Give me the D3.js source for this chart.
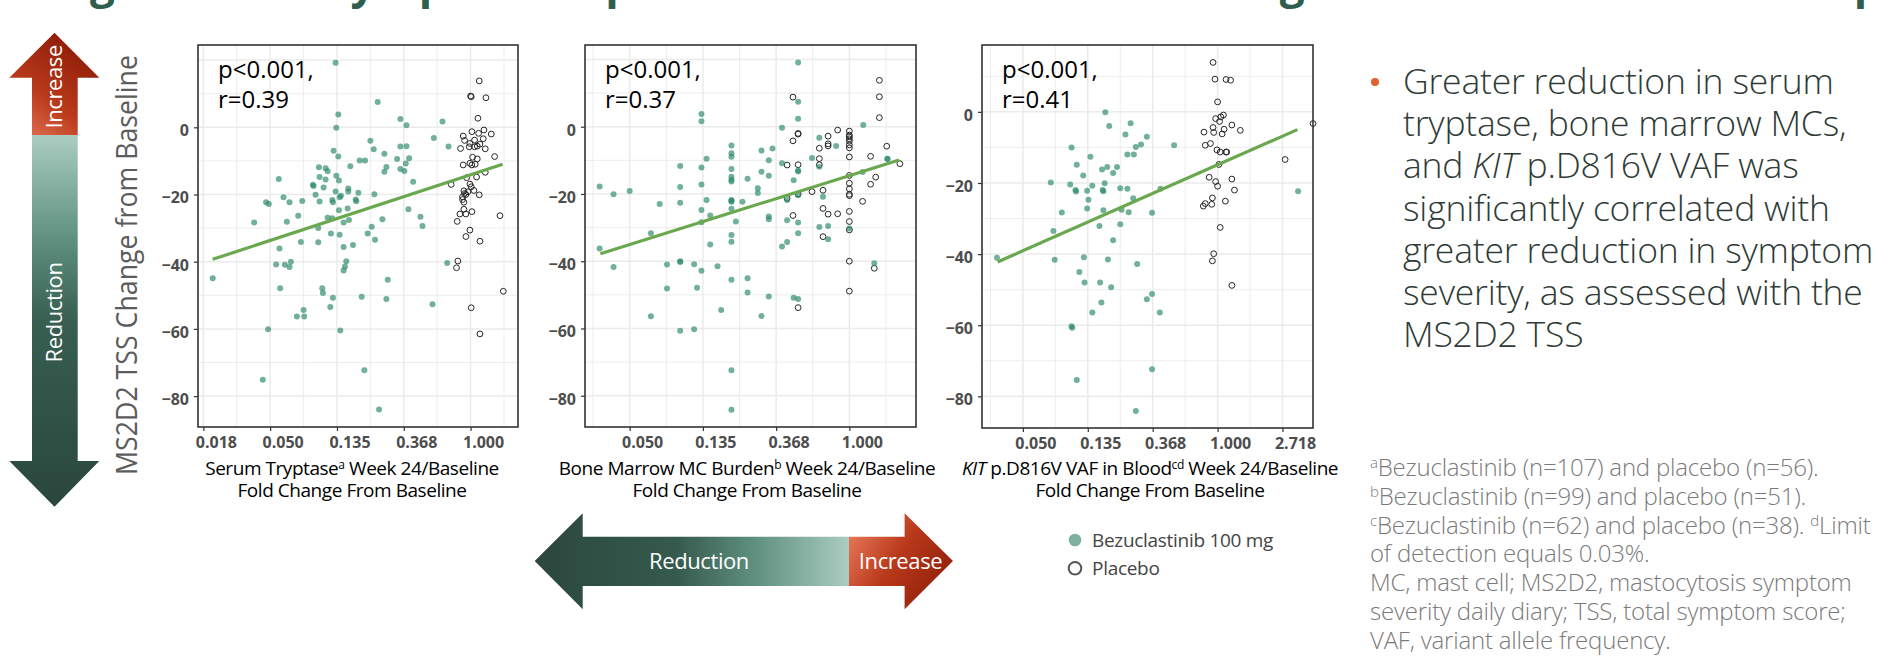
<!DOCTYPE html>
<html>
<head>
<meta charset="utf-8">
<script src="https://cdn.jsdelivr.net/npm/d3@7"></script>
<style>
  body { margin: 0; background: #fff; }
  svg { display: block; font-family: "Open Sans", "Liberation Sans", sans-serif; }
</style>
</head>
<body>
<svg id="viz" width="1887" height="664"></svg>
<script>
// Three scatter panels: MS2D2 TSS change vs log fold change of a disease marker.
// x values are stored as ln(fold change); tick labels show the fold change itself.

const svg = d3.select("#viz");

// ---------- data ----------
const yTicks = [0, -20, -40, -60, -80];

const tryptaseTicks = [-4, -3, -2, -1, 0];
const tryptaseTickLabels = ["0.018", "0.050", "0.135", "0.368", "1.000"];
const marrowTicks = [-3, -2, -1, 0];
const marrowTickLabels = ["0.050", "0.135", "0.368", "1.000"];
const kitTicks = [-3, -2, -1, 0, 1];
const kitTickLabels = ["0.050", "0.135", "0.368", "1.000", "2.718"];

// [ln fold change, TSS change from baseline]
const tryptaseBezu = [
  [-2.02,19.2],[-1.39,7.5],[-1.98,3.8],[-2.01,-0.1],[-1.05,2.5],[-0.96,0.6],[-0.42,1.7],[-0.55,-3.2],
  [-0.33,-5.7],[-1.50,-4.0],[-1.45,-6.5],[-2.05,-7.0],[-1.98,-8.7],[-1.29,-7.9],[-1.05,-5.7],[-0.96,-5.6],
  [-1.10,-9.4],[-0.92,-9.2],[-0.97,-10.8],[-1.66,-9.9],[-1.58,-9.9],[-1.80,-11.6],[-1.26,-11.8],[-1.29,-13.2],
  [-1.05,-12.4],[-0.99,-13.0],[-2.27,-11.9],[-2.17,-12.2],[-2.14,-13.1],[-2.01,-14.4],[-2.26,-14.8],[-2.17,-15.5],
  [-1.97,-15.8],[-2.87,-15.4],[-0.86,-16.2],[-2.36,-17.1],[-2.35,-17.5],[-2.20,-17.9],[-1.83,-18.2],[-1.83,-19.1],
  [-2.02,-19.1],[-2.32,-20.1],[-1.94,-20.4],[-1.96,-20.8],[-1.68,-19.5],[-1.44,-19.9],[-2.80,-20.8],[-3.06,-22.3],
  [-3.02,-22.8],[-2.71,-22.3],[-2.52,-21.9],[-2.26,-22.1],[-2.07,-21.6],[-2.06,-22.3],[-1.72,-21.5],[-1.71,-22.0],
  [-1.97,-24.7],[-1.84,-24.2],[-2.58,-26.3],[-2.14,-26.9],[-2.07,-27.1],[-1.90,-28.3],[-1.82,-27.6],[-3.24,-28.3],
  [-2.75,-28.1],[-1.32,-27.4],[-0.93,-24.4],[-0.75,-26.6],[-0.72,-29.4],[-1.48,-29.6],[-2.28,-30.0],[-2.09,-31.6],
  [-1.96,-32.0],[-1.54,-31.6],[-1.43,-33.5],[-2.54,-34.1],[-2.28,-34.2],[-1.90,-35.6],[-1.76,-35.0],[-2.86,-36.1],
  [-1.86,-39.9],[-2.91,-40.8],[-2.78,-40.9],[-2.69,-40.0],[-2.71,-41.6],[-1.88,-41.4],[-1.90,-42.6],[-0.35,-40.4],
  [-3.86,-44.9],[-1.24,-45.4],[-2.85,-47.9],[-2.22,-47.9],[-2.21,-49.3],[-2.06,-50.7],[-1.63,-50.4],[-1.26,-51.1],
  [-0.57,-52.7],[-2.10,-53.5],[-2.50,-54.4],[-2.60,-56.3],[-2.49,-56.3],[-3.03,-60.1],[-1.95,-60.5],[-1.59,-72.3],
  [-3.11,-75.1],[-1.37,-84.0]
];
const tryptasePbo = [
  [0.13,13.8],[0.01,9.1],[0.00,9.3],[0.23,8.8],[0.11,2.7],[0.20,-0.8],[0.31,-2.0],[0.02,-1.3],
  [-0.11,-2.6],[0.12,-1.8],[-0.09,-3.9],[0.06,-3.8],[0.19,-3.4],[-0.01,-4.8],[0.14,-5.0],[-0.15,-6.3],
  [-0.02,-5.8],[0.10,-5.6],[0.22,-6.4],[0.36,-8.7],[0.03,-8.9],[0.10,-9.4],[-0.11,-11.2],[-0.01,-10.7],
  [0.02,-11.2],[0.07,-11.0],[0.22,-13.4],[0.09,-14.8],[-0.06,-15.0],[-0.29,-17.0],[-0.01,-16.9],[0.05,-18.8],
  [-0.10,-18.9],[-0.09,-19.7],[-0.07,-20.0],[0.13,-20.1],[-0.12,-21.5],[-0.10,-22.3],[-0.10,-24.4],[0.02,-25.1],
  [-0.16,-25.8],[-0.07,-25.8],[-0.20,-28.0],[-0.01,-30.6],[-0.07,-32.5],[0.14,-33.9],[0.44,-26.3],[-0.19,-39.8],
  [-0.21,-41.8],[0.49,-48.8],[0.01,-53.7],[0.14,-61.5],[-0.04,-19.2],[0.01,-17.7],[-0.12,-20.7],[0.06,-5.8]
];
const tryptaseFit = [[-3.86, -39.3], [0.48, -11.0]];

const marrowBezu = [
  [-0.70,19.1],[-0.70,7.4],[-0.70,2.4],[-0.92,-0.3],[0.19,0.5],[-2.02,3.8],[-2.02,1.6],[-1.61,-5.6],
  [-1.61,-7.9],[-1.61,-8.9],[-1.20,-7.1],[-1.05,-6.5],[-0.41,-3.3],[-0.18,-5.7],[-0.51,-9.3],[-0.41,-11.9],
  [0.52,-9.5],[-1.95,-9.5],[-2.31,-11.7],[-2.02,-12.1],[-1.61,-12.6],[-1.61,-14.9],[-1.61,-15.8],[-1.61,-16.3],
  [-1.10,-10.0],[-0.92,-10.9],[-0.70,-13.3],[-1.20,-13.4],[-1.10,-14.6],[-1.39,-15.5],[-0.76,-15.9],[0.18,-13.5],
  [-3.41,-17.8],[-3.22,-20.1],[-3.00,-19.1],[-2.31,-17.9],[-2.02,-17.2],[-1.25,-18.3],[-1.25,-19.7],[-0.36,-20.8],
  [-0.85,-21.8],[-0.70,-20.4],[-1.95,-21.8],[-1.61,-21.8],[-1.61,-22.3],[-1.46,-22.3],[-2.59,-23.0],[-2.31,-22.6],
  [-2.02,-24.8],[-1.61,-24.4],[-1.90,-26.4],[-1.10,-26.7],[-1.10,-27.5],[-0.85,-27.8],[-0.70,-28.5],[-1.55,-28.2],
  [-2.02,-28.4],[-0.41,-29.8],[-0.29,-29.5],[0.00,-30.3],[-2.71,-31.7],[-1.61,-32.2],[-0.70,-31.7],[-0.29,-33.5],
  [-1.61,-34.2],[-1.90,-35.0],[-0.85,-34.3],[-0.92,-35.6],[-3.41,-36.2],[-3.22,-41.7],[-2.49,-41.0],[-2.31,-40.0],
  [-2.12,-40.9],[-2.02,-42.8],[-1.80,-41.5],[0.34,-40.6],[-1.61,-45.5],[-1.39,-45.1],[-2.49,-48.1],[-2.08,-47.9],
  [-1.39,-49.3],[-1.10,-50.5],[-0.76,-50.9],[-0.70,-51.2],[-1.75,-54.5],[-2.71,-56.4],[-1.20,-56.3],[-2.31,-60.7],
  [-2.12,-60.2],[-1.61,-72.4],[-1.61,-84.2],[-2.31,-40.2],[-1.61,-22.0],[-0.70,-13.0],[0.52,-9.6]
];
const marrowPbo = [
  [0.41,13.8],[0.41,8.9],[0.41,2.7],[-0.77,8.8],[-0.70,-2.0],[-0.70,-2.2],[-0.77,-4.2],[-0.16,-1.0],
  [-0.29,-2.8],[-0.29,-5.1],[-0.29,-5.7],[-0.41,-6.4],[0.00,-1.3],[0.00,-2.5],[0.00,-3.0],[0.00,-3.6],
  [0.00,-4.3],[0.00,-5.4],[0.00,-6.3],[0.00,-9.0],[0.51,-5.8],[-0.41,-9.5],[-0.41,-11.3],[-0.85,-11.4],
  [-0.70,-11.3],[0.29,-8.8],[0.69,-11.0],[0.36,-15.0],[0.29,-17.1],[0.00,-16.8],[0.00,-18.5],[0.00,-20.1],
  [0.00,-20.5],[-0.36,-18.9],[-0.51,-19.3],[0.18,-22.2],[-0.85,-21.3],[-0.36,-24.3],[-0.29,-26.0],[-0.16,-25.9],
  [-0.77,-26.4],[0.00,-25.2],[0.00,-28.2],[0.00,-30.7],[-0.36,-32.7],[0.00,-40.0],[0.34,-42.1],[0.00,-48.9],
  [-0.70,-53.8],[-0.70,-20.0],[0.00,-14.5]
];
const marrowFit = [[-3.40, -37.8], [0.68, -9.9]];

const kitBezu = [
  [-1.73,-0.1],[-1.67,-4.0],[-1.34,-3.2],[-1.42,-6.4],[-1.09,-7.0],[-1.18,-9.2],[-1.26,-9.9],[-1.39,-12.0],
  [-1.29,-12.0],[-0.67,-9.4],[-2.25,-10.0],[-1.96,-12.6],[-2.17,-14.9],[-2.07,-17.9],[-1.78,-16.2],[-1.70,-15.5],
  [-1.55,-15.5],[-1.61,-17.2],[-1.74,-20.1],[-2.57,-19.9],[-2.27,-20.4],[-2.19,-22.0],[-2.18,-22.4],[-2.01,-22.2],
  [-1.93,-20.8],[-1.77,-22.0],[-1.76,-22.3],[-1.50,-21.5],[-1.39,-21.6],[-0.88,-21.6],[-1.99,-24.7],[-1.30,-24.3],
  [-2.01,-27.2],[-1.76,-27.7],[-1.48,-27.5],[-1.37,-28.2],[-1.01,-28.4],[-2.40,-28.3],[-1.82,-32.1],[-1.50,-31.6],
  [-2.53,-33.5],[-1.61,-36.1],[-3.40,-41.0],[-2.51,-41.6],[-2.06,-40.9],[-1.69,-41.5],[-1.24,-42.8],[-2.13,-45.0],
  [-2.05,-48.0],[-1.81,-48.0],[-1.64,-49.3],[-1.01,-51.2],[-1.09,-52.7],[-1.79,-53.6],[-1.93,-56.4],[-0.89,-56.4],
  [-2.25,-60.3],[-2.24,-60.7],[-1.01,-72.4],[-2.17,-75.4],[-1.26,-84.1],[1.24,-22.3]
];
const kitPbo = [
  [-0.07,13.9],[-0.04,9.2],[0.13,9.1],[0.20,8.9],[0.00,2.8],[0.09,-0.9],[0.05,-1.4],[-0.03,-1.9],
  [0.03,-2.7],[0.22,-3.7],[-0.07,-4.4],[0.10,-4.9],[0.35,-5.2],[-0.21,-5.7],[-0.06,-5.8],[0.07,-6.2],
  [-0.11,-8.9],[-0.19,-9.4],[-0.01,-10.7],[0.04,-11.3],[0.13,-11.3],[0.14,-11.3],[1.47,-3.3],[1.04,-13.4],
  [0.02,-14.8],[-0.13,-18.4],[0.22,-18.9],[-0.03,-19.6],[0.00,-20.9],[0.26,-22.0],[0.12,-25.1],[-0.08,-24.2],
  [-0.19,-25.8],[-0.09,-26.0],[-0.22,-26.5],[0.04,-32.5],[-0.06,-39.9],[-0.08,-41.9],[0.22,-48.8]
];
const kitFit = [[-3.39, -42.2], [1.23, -5.0]];

const statLines = [["p<0.001,", "r=0.39"], ["p<0.001,", "r=0.37"], ["p<0.001,", "r=0.41"]];

const bulletLines = [
  [["Greater reduction in serum", false]],
  [["tryptase, bone marrow MCs,", false]],
  [["and ", false], ["KIT", true], [" p.D816V VAF was", false]],
  [["significantly correlated with", false]],
  [["greater reduction in symptom", false]],
  [["severity, as assessed with the", false]],
  [["MS2D2 TSS", false]]
];

// each footnote line: pieces [text, isSuperscript]
const footnoteLines = [
  [["a", true], ["Bezuclastinib (n=107) and placebo (n=56).", false]],
  [["b", true], ["Bezuclastinib (n=99) and placebo (n=51).", false]],
  [["c", true], ["Bezuclastinib (n=62) and placebo (n=38). ", false], ["d", true], ["Limit", false]],
  [["of detection equals 0.03%.", false]],
  [["MC, mast cell; MS2D2, mastocytosis symptom", false]],
  [["severity daily diary; TSS, total symptom score;", false]],
  [["VAF, variant allele frequency.", false]]
];

const legendItems = ["Bezuclastinib 100 mg", "Placebo"];

// ---------- colours ----------
const colBezu = "#2e8a68";
const colPbo = "#262626";
const colFit = "#6aa84f";
const colGrid = "#ebebeb";

// ---------- gradients ----------
const defs = svg.append("defs");
function linGrad(id, x1, y1, x2, y2, stops) {
  const g = defs.append("linearGradient").attr("id", id)
    .attr("x1", x1).attr("y1", y1).attr("x2", x2).attr("y2", y2);
  stops.forEach(s => g.append("stop").attr("offset", s[0]).attr("stop-color", s[1]));
}
linGrad("redUp", 0, 1, 0.6, 0, [[0, "#e8785a"], [0.45, "#b9391b"], [1, "#8c1d07"]]);
linGrad("greenDown", 0, 0, 0, 1, [[0, "#aacdc0"], [0.28, "#5f907f"], [0.5, "#375e51"], [1, "#2a463d"]]);
linGrad("greenLeft", 1, 0, 0, 0, [[0, "#aacdc0"], [0.3, "#5f907f"], [0.55, "#355a4d"], [1, "#2b473e"]]);
linGrad("redRight", 0, 0.2, 1, 0.8, [[0, "#e8785a"], [0.45, "#b9391b"], [1, "#8c1d07"]]);

// ---------- clipped title (only descenders are visible) ----------
svg.append("text")
  .attr("x", 22).attr("y", -2)
  .attr("font-size", 44).attr("font-weight", 700).attr("fill", "#2f5e4f")
  .text("Magnitude of Symptom Improvement Correlated With Degree of Disease Burden Improvement");

// ---------- vertical arrow ----------
const va = { cx: 54.5, headL: 9.3, headR: 99.3, shaftL: 32, shaftR: 77.7, tipTop: 32.7, headTop: 77.7, split: 135, headBot: 461, tipBot: 506.7 };
svg.append("polygon").attr("fill", "url(#redUp)").attr("points", [
  [va.cx, va.tipTop], [va.headR, va.headTop], [va.shaftR, va.headTop], [va.shaftR, va.split],
  [va.shaftL, va.split], [va.shaftL, va.headTop], [va.headL, va.headTop]].join(" "));
svg.append("polygon").attr("fill", "url(#greenDown)").attr("points", [
  [va.shaftL, va.split], [va.shaftR, va.split], [va.shaftR, va.headBot], [va.headR, va.headBot],
  [va.cx, va.tipBot], [va.headL, va.headBot], [va.shaftL, va.headBot]].join(" "));
[["Increase", 86.8], ["Reduction", 312.5]].forEach(([t, cy]) => {
  svg.append("text")
    .attr("transform", `translate(${va.cx + 7.5},${cy}) rotate(-90)`)
    .attr("text-anchor", "middle").attr("font-size", 22).attr("fill", "#fff")
    .attr("letter-spacing", -0.4).text(t);
});

// y axis title
svg.append("text")
  .attr("transform", "translate(137,265) rotate(-90)")
  .attr("text-anchor", "middle").attr("font-size", 30).attr("fill", "#5c5c5c")
  .attr("textLength", 420).attr("lengthAdjust", "spacingAndGlyphs")
  .text("MS2D2 TSS Change from Baseline");

// ---------- panels ----------
const panels = [
  { left: 198, right: 518, top: 45, bottom: 427, xDomain: [-4.08, 0.71], yDomain: [-89.2, 24.5],
    ticks: tryptaseTicks, labels: tryptaseTickLabels, bezu: tryptaseBezu, pbo: tryptasePbo, fit: tryptaseFit,
    stat: statLines[0], titleX: 352,
    title: [[["Serum Tryptase", 0], ["a", 1], [" Week 24/Baseline", 0]], [["Fold Change From Baseline", 0]]] },
  { left: 585, right: 916, top: 45, bottom: 427, xDomain: [-3.61, 0.91], yDomain: [-89.3, 24.3],
    ticks: marrowTicks, labels: marrowTickLabels, bezu: marrowBezu, pbo: marrowPbo, fit: marrowFit,
    stat: statLines[1], titleX: 747,
    title: [[["Bone Marrow MC Burden", 0], ["b", 1], [" Week 24/Baseline", 0]], [["Fold Change From Baseline", 0]]] },
  { left: 982, right: 1313, top: 45, bottom: 428, xDomain: [-3.63, 1.47], yDomain: [-88.9, 18.8],
    ticks: kitTicks, labels: kitTickLabels, bezu: kitBezu, pbo: kitPbo, fit: kitFit,
    stat: statLines[2], titleX: 1150,
    title: [[["KIT", 2], [" p.D816V VAF in Blood", 0], ["cd", 1], [" Week 24/Baseline", 0]], [["Fold Change From Baseline", 0]]] }
];

panels.forEach(drawPanel);

function drawPanel(p) {
  const x = d3.scaleLinear().domain(p.xDomain).range([p.left, p.right]);
  const y = d3.scaleLinear().domain(p.yDomain).range([p.bottom, p.top]);
  const g = svg.append("g");

  // grid: half-unit (minor) and unit (major) in x, 10s and 20s in y
  const xs = d3.range(Math.ceil(p.xDomain[0] * 2), Math.floor(p.xDomain[1] * 2) + 1).map(k => k / 2);
  const ys = d3.range(Math.ceil(p.yDomain[0] / 10), Math.floor(p.yDomain[1] / 10) + 1).map(k => k * 10);
  g.selectAll(".gx").data(xs).join("line")
    .attr("x1", d => x(d)).attr("x2", d => x(d)).attr("y1", p.top).attr("y2", p.bottom)
    .attr("stroke", colGrid).attr("stroke-width", d => Number.isInteger(d) ? 1.5 : 0.9);
  g.selectAll(".gy").data(ys).join("line")
    .attr("y1", d => y(d)).attr("y2", d => y(d)).attr("x1", p.left).attr("x2", p.right)
    .attr("stroke", colGrid).attr("stroke-width", d => d % 20 === 0 ? 1.5 : 0.9);

  // axes
  const ax = g.append("g").attr("transform", `translate(0,${p.bottom})`)
    .call(d3.axisBottom(x).tickValues(p.ticks).tickFormat((d, i) => p.labels[i]).tickSize(4).tickPadding(6));
  const ay = g.append("g").attr("transform", `translate(${p.left},0)`)
    .call(d3.axisLeft(y).tickValues(yTicks).tickSize(4).tickPadding(5));
  [ax, ay].forEach(a => {
    a.select(".domain").remove();
    a.attr("font-family", null);
    a.selectAll(".tick line").attr("stroke", "#333").attr("stroke-width", 1.2);
    a.selectAll(".tick text").attr("font-size", 16)
      .attr("font-weight", 700).attr("fill", "#4d4d4d");
  });
  ax.selectAll(".tick text").attr("dx", 12.5);
  ay.selectAll(".tick text").attr("dy", "0.52em");

  // points
  g.selectAll(".pbo").data(p.pbo).join("circle")
    .attr("cx", d => x(d[0])).attr("cy", d => y(d[1])).attr("r", 2.9)
    .attr("fill", "none").attr("stroke", colPbo).attr("stroke-width", 1);
  g.selectAll(".bezu").data(p.bezu).join("circle")
    .attr("cx", d => x(d[0])).attr("cy", d => y(d[1])).attr("r", 3)
    .attr("fill", colBezu).attr("fill-opacity", 0.68);

  // fitted line
  g.append("path").datum(p.fit)
    .attr("d", d3.line().x(d => x(d[0])).y(d => y(d[1])))
    .attr("stroke", colFit).attr("stroke-width", 3.2).attr("fill", "none");

  // frame
  g.append("rect").attr("x", p.left).attr("y", p.top)
    .attr("width", p.right - p.left).attr("height", p.bottom - p.top)
    .attr("fill", "none").attr("stroke", "#333").attr("stroke-width", 1.6);

  // statistics
  p.stat.forEach((t, i) => {
    g.append("text").attr("x", p.left + 20).attr("y", 78 + i * 30)
      .attr("font-size", 24).attr("fill", "#000").text(t);
  });

  // x title (two lines); kind 0 plain, 1 superscript, 2 italic
  p.title.forEach((line, i) => {
    const t = g.append("text").attr("x", p.titleX).attr("y", 475 + i * 21.5)
      .attr("text-anchor", "middle").attr("font-size", 19).attr("letter-spacing", -0.45).attr("fill", "#000");
    let prevSup = false;
    line.forEach(([s, kind]) => {
      const ts = t.append("tspan").text(s);
      if (kind === 1) ts.attr("font-size", 12).attr("dy", -6);
      else if (prevSup) ts.attr("dy", 6);
      if (kind === 2) ts.attr("font-style", "italic");
      prevSup = kind === 1;
    });
  });
}

// ---------- horizontal arrow ----------
const ha = { cy: 561, tipL: 534.7, headL: 582.7, split: 849, headR: 904.6, tipR: 953, headTop: 513.3, headBot: 609.3, shaftTop: 536.7, shaftBot: 586 };
svg.append("polygon").attr("fill", "url(#greenLeft)").attr("points", [
  [ha.tipL, ha.cy], [ha.headL, ha.headTop], [ha.headL, ha.shaftTop], [ha.split, ha.shaftTop],
  [ha.split, ha.shaftBot], [ha.headL, ha.shaftBot], [ha.headL, ha.headBot]].join(" "));
svg.append("polygon").attr("fill", "url(#redRight)").attr("points", [
  [ha.split, ha.shaftTop], [ha.headR, ha.shaftTop], [ha.headR, ha.headTop], [ha.tipR, ha.cy],
  [ha.headR, ha.headBot], [ha.headR, ha.shaftBot], [ha.split, ha.shaftBot]].join(" "));
[["Reduction", 699], ["Increase", 900.5]].forEach(([t, cx]) => {
  svg.append("text").attr("x", cx).attr("y", ha.cy + 8)
    .attr("text-anchor", "middle").attr("font-size", 22).attr("letter-spacing", -0.4)
    .attr("fill", "#fff").text(t);
});

// ---------- legend ----------
const lg = svg.append("g");
legendItems.forEach((name, i) => {
  const cy = 540 + i * 28.3;
  const c = lg.append("circle").attr("cx", 1075).attr("cy", cy).attr("r", 6.3);
  if (i === 0) c.attr("fill", "#7fb09f");
  else c.attr("fill", "none").attr("stroke", "#555").attr("stroke-width", 2);
  lg.append("text").attr("x", 1092).attr("y", cy + 6.5).attr("font-size", 19)
    .attr("letter-spacing", -0.3).attr("fill", "#444").text(name);
});

// ---------- bullet text ----------
svg.append("circle").attr("cx", 1375).attr("cy", 82).attr("r", 4).attr("fill", "#e0622f");
bulletLines.forEach((line, i) => {
  const t = svg.append("text").attr("x", 1403).attr("y", 94 + i * 42.2)
    .attr("font-size", 35.5).attr("font-weight", 300).attr("letter-spacing", -0.2).attr("fill", "#2f3b36");
  line.forEach(([s, it]) => {
    const ts = t.append("tspan").text(s);
    if (it) ts.attr("font-style", "italic");
  });
});

// ---------- footnotes ----------
footnoteLines.forEach((line, i) => {
  const t = svg.append("text").attr("x", 1370).attr("y", 476 + i * 28.8)
    .attr("font-size", 24).attr("font-weight", 300).attr("letter-spacing", -0.2).attr("fill", "#7a7a7a");
  let prevSup = false;
  line.forEach(([s, sup]) => {
    const ts = t.append("tspan").text(s);
    if (sup) ts.attr("font-size", 15).attr("dy", -8);
    else if (prevSup) ts.attr("dy", 8);
    prevSup = sup;
  });
});
</script>
</body>
</html>
